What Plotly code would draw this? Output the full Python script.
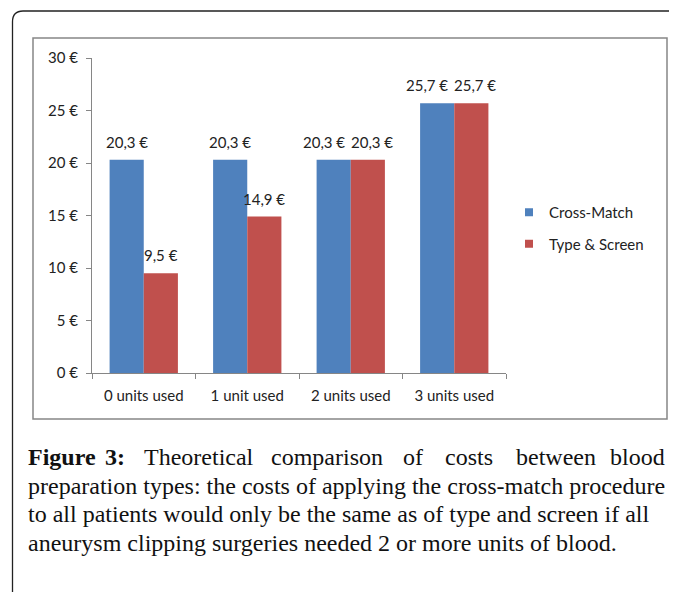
import plotly.graph_objects as go

# page body keeps its default 8px margin, so the figure is 8px smaller
OFF = 8
W, H = 677 - OFF, 592 - OFF

categories = ["0 units used", "1 unit used", "2 units used", "3 units used"]
cross_match = [20.3, 20.3, 20.3, 25.7]
type_screen = [9.5, 14.9, 20.3, 25.7]
y_ticks = [0, 5, 10, 15, 20, 25, 30]

# first caption line is justified, so its words are placed one by one
caption_first = ["<b>Figure</b>", "<b>3:</b>", "Theoretical", "comparison", "of", "costs", "between", "blood"]
caption_rest = [
    "preparation types: the costs of applying the cross-match procedure",
    "to all patients would only be the same as of type and screen if all",
    "aneurysm clipping surgeries needed 2 or more units of blood.",
]

BLUE = "#4F81BD"
RED = "#C0504D"
AXIS = "#868686"
FONT = "Lato"
FS = 15
CAP_FONT = dict(family="Liberation Serif", size=24, color="#111")


def px(x):
    return (x - OFF) / W


def py(y):
    return 1 - (y - OFF) / H


def fmt(v):
    return f"{v:.1f}".replace(".", ",") + " €"


fig = go.Figure()
for name, vals, col in [("Cross-Match", cross_match, BLUE), ("Type & Screen", type_screen, RED)]:
    fig.add_trace(go.Bar(
        x=categories, y=vals, name=name, marker=dict(color=col, line=dict(width=0)),
        showlegend=False, hoverinfo="x+y",
    ))
    # small square legend swatches
    fig.add_trace(go.Scatter(
        x=[None], y=[None], mode="markers", name=name, legendgroup=name,
        marker=dict(symbol="square", size=8, color=col),
    ))

annotations = []
# value labels above each bar; pushed apart where two labels share a height
for cat, a, b in zip(categories, cross_match, type_screen):
    close = abs(a - b) < 3
    for v, shift in [(a, -17 - (10 if close else 0)), (b, 17 + (4 if close else 0))]:
        annotations.append(dict(
            x=cat, y=v, xref="x", yref="y", text=fmt(v), showarrow=False,
            xanchor="center", yanchor="bottom", xshift=shift, yshift=7,
            font=dict(family=FONT, size=FS, color="#222"),
        ))

word_x = [26, 115, 199, 327, 413, 469, 556, 667]
for i, (word, x) in enumerate(zip(caption_first, word_x)):
    anchor = "left" if i == 0 else ("right" if i == len(caption_first) - 1 else "center")
    annotations.append(dict(
        text=word, xref="paper", yref="paper", x=px(x), y=py(457),
        xanchor=anchor, yanchor="middle", showarrow=False, font=CAP_FONT,
    ))

for i, line in enumerate(caption_rest):
    annotations.append(dict(
        text=line, xref="paper", yref="paper", x=px(26), y=py(457 + (i + 1) * 28.7),
        xanchor="left", yanchor="middle", showarrow=False, align="left", font=CAP_FONT,
    ))

shapes = [
    # inner chart frame
    dict(type="rect", xref="paper", yref="paper", x0=px(33), x1=px(667), y0=py(38), y1=py(419),
         line=dict(color=AXIS, width=1.5), layer="below"),
    # outer rounded frame
    dict(type="path", xref="paper", yref="paper",
         path=f"M {px(12.5)},{py(600)} L {px(12.5)},{py(22)} Q {px(12.5)},{py(11)} {px(23)},{py(11)} L {px(690)},{py(11)}",
         line=dict(color="#222", width=1.3)),
]

fig.update_layout(
    width=W, height=H, template="none",
    margin=dict(l=0, r=0, t=0, b=0),
    paper_bgcolor="white", plot_bgcolor="white",
    barmode="group", bargap=0.34, bargroupgap=0,
    font=dict(family=FONT, size=FS, color="#222"),
    xaxis=dict(domain=[px(92), px(506)], showgrid=False, showline=True, linecolor=AXIS, linewidth=1,
               ticks="outside", tickson="boundaries", ticklen=5, tickcolor=AXIS,
               tickfont=dict(size=FS), ticklabelstandoff=9, automargin=False, zeroline=False),
    yaxis=dict(domain=[py(373), py(58)], range=[0, 30], tickvals=y_ticks,
               ticktext=[f"{v} €" for v in y_ticks],
               showgrid=False, showline=True, linecolor=AXIS, linewidth=1,
               ticks="outside", ticklen=5, tickcolor=AXIS, tickfont=dict(size=FS),
               ticklabelstandoff=5, automargin=False, zeroline=False),
    showlegend=True,
    legend=dict(x=px(509), y=py(196), xanchor="left", yanchor="top", tracegroupgap=9,
                font=dict(size=FS), itemwidth=30, bgcolor="rgba(0,0,0,0)"),
    shapes=shapes, annotations=annotations,
)

fig.write_html("out.html")
